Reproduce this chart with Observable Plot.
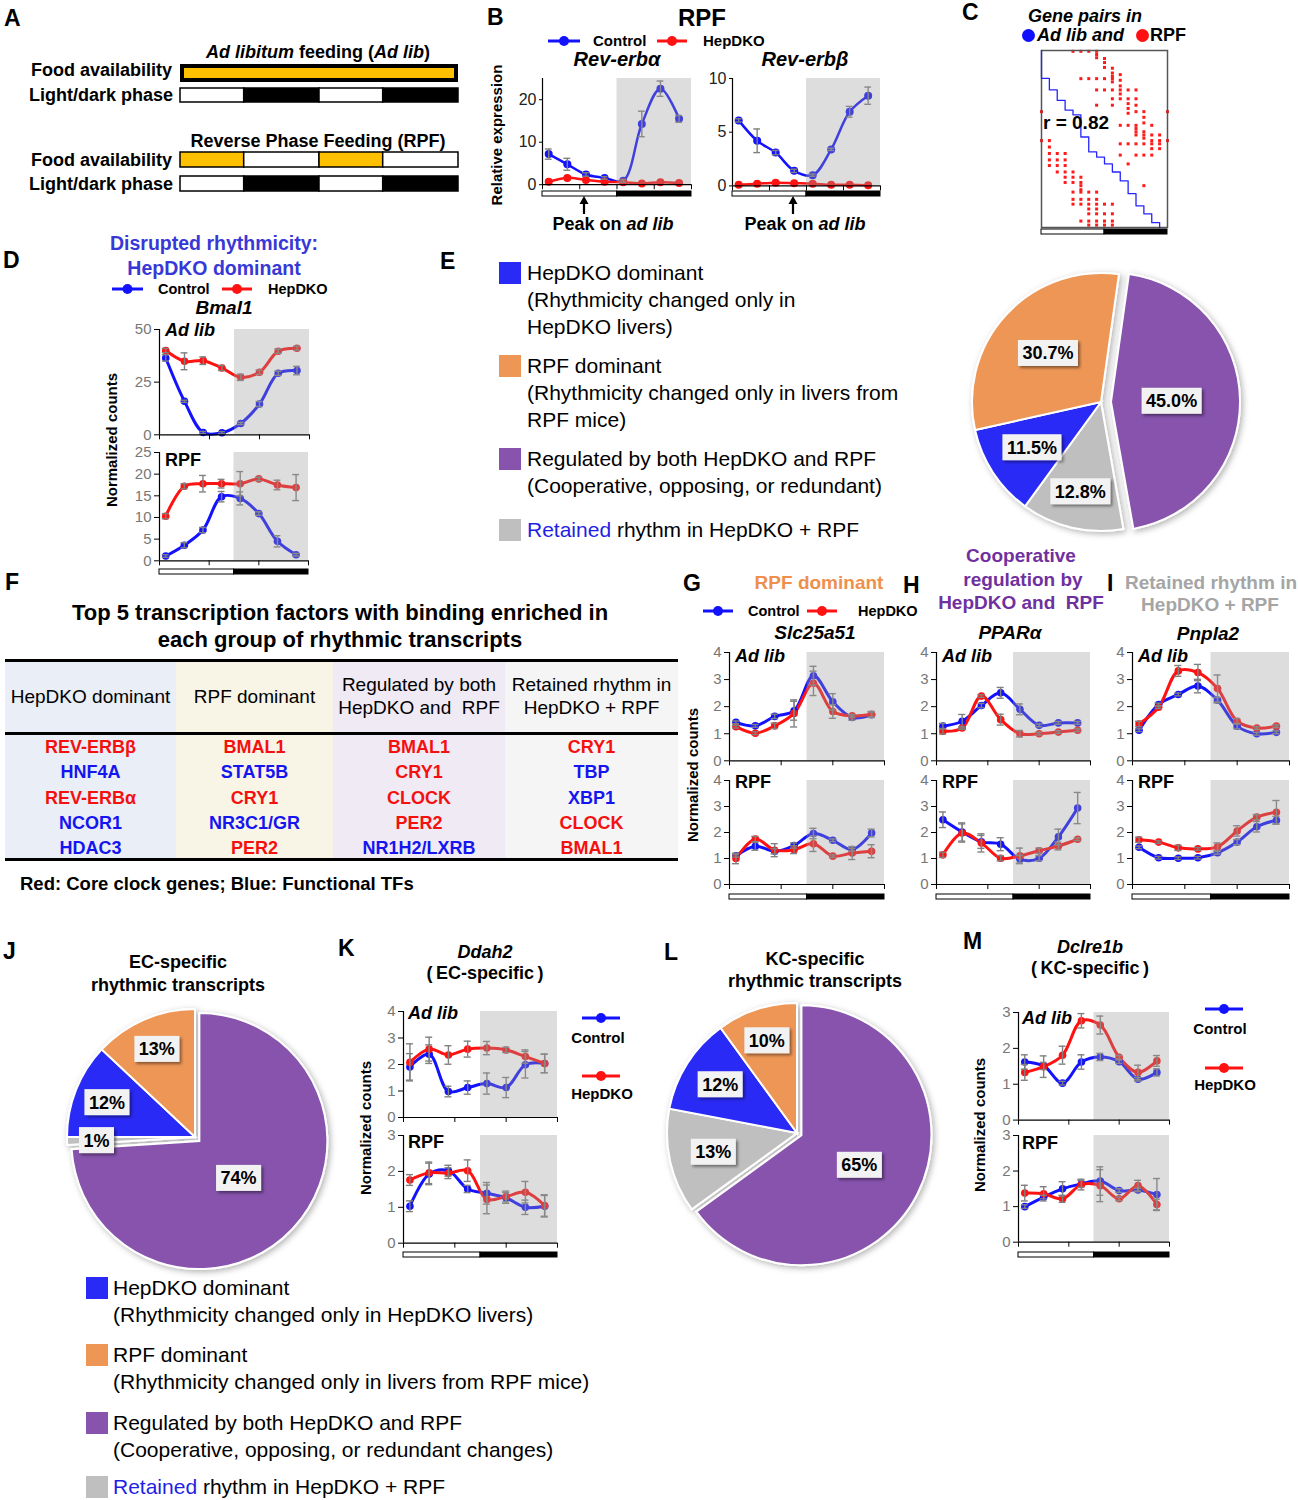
<!DOCTYPE html>
<html><head><meta charset="utf-8">
<script src="https://cdn.jsdelivr.net/npm/d3@7"></script>
<script src="https://cdn.jsdelivr.net/npm/@observablehq/plot@0.6"></script>
<style>
html,body{margin:0;padding:0;background:#fff;}
#fig{position:relative;width:1298px;height:1500px;overflow:hidden;background:#fff;font-family:"Liberation Sans",Arial,Helvetica,sans-serif;color:#000;}
#fig .t{position:absolute;white-space:pre;line-height:1.15;}
#fig svg{position:absolute;overflow:visible;}
</style></head>
<body><div id="fig"></div>
<script>
// ================= DATA =================
const ZT = [1, 4, 7, 10, 13, 16, 19, 22];
const lightDark = [{phase: "light", start: 0, end: 12}, {phase: "dark", start: 12, end: 24}];

// Panel A schematic (hours over two days)
const adLibFood = [{start: 0, end: 48, food: true}];
const phaseSegments = [{start: 0, end: 11, light: true}, {start: 11, end: 24, light: false}, {start: 24, end: 35, light: true}, {start: 35, end: 48, light: false}];
const rpfFood = [{start: 0, end: 11, food: true}, {start: 11, end: 24, food: false}, {start: 24, end: 35, food: true}, {start: 35, end: 48, food: false}];

// Panel B (RPF, relative expression)
const revErbaCtrl = [7.2, 4.8, 2.4, 1.6, 0.9, 14.3, 22.6, 15.5];
const revErbaCtrlErr = [1.2, 1.4, 0.4, 0.3, 0.3, 3.0, 1.8, 0.8];
const revErbaHep = [0.7, 1.6, 1.1, 0.7, 0.6, 0.3, 0.6, 0.4];
const revErbaHepErr = [0, 0, 0, 0, 0, 0, 0, 0];
const revErbbCtrl = [6.1, 4.2, 3.1, 1.4, 1.0, 3.4, 6.9, 8.4];
const revErbbCtrlErr = [0.15, 1.1, 0.2, 0.15, 0.1, 0.1, 0.5, 0.8];
const revErbbHep = [0.1, 0.2, 0.3, 0.25, 0.2, 0.1, 0.1, 0.05];
const revErbbHepErr = [0, 0, 0, 0, 0, 0, 0, 0];

// Panel C (gene pairs)
const pairsStep = [[0,0],[1,3.46],[2,4.9],[3,6.2],[4,7.4],[5,8.0],[6,10.75],[7,12.6],[8,13.25],[9,14.1],[10,15.1],[11,16.2],[12,17.8],[13,19.3],[14,20.3],[15,21.4],[15,22]];
const pairsRed = [
  [0.1,[4,5,6,7]],[0.5,[7]],[0.9,[7]],[1.0,[8]],[1.5,[8]],[2.1,[8]],[2.2,[9]],[2.8,[9]],[3.0,[10]],[3.2,[9]],
  [3.5,[5,6,7,8,9]],[3.7,[10]],[3.9,[9]],[4.4,[10]],[4.9,[7,8,9,10,11,12]],[5.4,[10]],
  [6.0,[9,10,11,12]],[6.6,[11]],[6.8,[7,9,12]],[7.2,[11]],[7.6,[0,12,13,16]],[7.8,[11]],
  [8.3,[13]],[9.0,[13]],[9.3,[10,11,12,14]],[9.7,[12]],[10.1,[12,13]],[10.5,[12,13,14,15]],[10.9,[13]],
  [11.2,[0,1,14,15,16]],[11.6,[10,11,12,13,14,15]],[12.2,[14,15]],[13.0,[10,12,13,14]],[14.1,[11]],
  [12.0,[1]],[12.8,[1,2,3]],[13.6,[1,2,3]],[14.3,[1,2,3]],[15.1,[2,3,4]],[15.75,[3,4,5]],[16.4,[3,4,5]],
  [16.8,[5,13]],[17.3,[5]],[17.6,[4,5,6,7]],[18.5,[4,5,6,7]],[19.1,[4,5,6,7,8,9]],[19.7,[6,7]],
  [20.3,[6,7,8,9]],[21.2,[5,6,7,8,9]],[21.7,[6,7,8,9]]
];

// Panel D (Bmal1)
const bmal1AdCtrl = [36.5, 15.9, 1.1, 1.0, 5.4, 14.6, 29.2, 30.5];
const bmal1AdCtrlErr = [1.5, 0.5, 0.5, 0.5, 0.5, 1.2, 1.0, 2.0];
const bmal1AdHep = [40.0, 34.9, 35.2, 31.7, 27.3, 29.7, 39.7, 41.1];
const bmal1AdHepErr = [1.0, 4.0, 1.8, 1.2, 1.5, 1.0, 1.0, 1.0];
const bmal1RpfCtrl = [1.1, 3.6, 7.1, 14.8, 14.4, 10.9, 4.5, 1.4];
const bmal1RpfCtrlErr = [0.3, 0.6, 0.6, 1.2, 1.5, 0.4, 1.3, 0.3];
const bmal1RpfHep = [10.3, 17.2, 17.8, 17.8, 17.8, 18.9, 17.5, 16.9];
const bmal1RpfHepErr = [0.6, 0.6, 1.9, 1.0, 2.8, 0.4, 1.1, 3.0];

// Panel E pie (percent)
const groupCats = ["HepDKO dominant", "RPF dominant", "Regulated by both", "Retained rhythm"];
const pieAll = [{cat: "Regulated by both", value: 45.0}, {cat: "Retained rhythm", value: 12.8}, {cat: "HepDKO dominant", value: 11.5}, {cat: "RPF dominant", value: 30.7}];

// Panel F table
const tfGroups = [["HepDKO dominant"], ["RPF dominant"], ["Regulated by both", "HepDKO and  RPF"], ["Retained rhythm in", "HepDKO + RPF"]];
const tfTop5 = [
  ["REV-ERBβ", "HNF4A", "REV-ERBα", "NCOR1", "HDAC3"],
  ["BMAL1", "STAT5B", "CRY1", "NR3C1/GR", "PER2"],
  ["BMAL1", "CRY1", "CLOCK", "PER2", "NR1H2/LXRB"],
  ["CRY1", "TBP", "XBP1", "CLOCK", "BMAL1"]
];
const coreClockTFs = ["REV-ERBβ", "REV-ERBα", "BMAL1", "CRY1", "CLOCK", "PER2"];

// Panel G (Slc25a51)
const slcAdCtrl = [1.42, 1.29, 1.64, 1.85, 3.14, 2.18, 1.6, 1.7];
const slcAdCtrlErr = [0.05, 0.05, 0.08, 0.35, 0.35, 0.3, 0.1, 0.1];
const slcAdHep = [1.26, 1.02, 1.29, 1.75, 2.86, 1.82, 1.66, 1.72];
const slcAdHepErr = [0.05, 0.05, 0.1, 0.5, 0.45, 0.25, 0.05, 0.1];
const slcRpfCtrl = [1.1, 1.47, 1.28, 1.5, 1.96, 1.7, 1.34, 1.98];
const slcRpfCtrlErr = [0.05, 0.15, 0.1, 0.1, 0.2, 0.05, 0.05, 0.15];
const slcRpfHep = [1.0, 1.75, 1.32, 1.34, 1.57, 1.09, 1.21, 1.28];
const slcRpfHepErr = [0.2, 0.1, 0.25, 0.15, 0.3, 0.05, 0.25, 0.25];

// Panel H (PPARα)
const pparAdCtrl = [1.28, 1.46, 2.04, 2.51, 1.9, 1.31, 1.4, 1.4];
const pparAdCtrlErr = [0.1, 0.25, 0.08, 0.2, 0.2, 0.05, 0.05, 0.05];
const pparAdHep = [1.09, 1.21, 2.39, 1.52, 1.0, 1.0, 1.06, 1.13];
const pparAdHepErr = [0.1, 0.05, 0.05, 0.2, 0.12, 0.05, 0.05, 0.05];
const pparRpfCtrl = [2.49, 2.02, 1.64, 1.55, 0.97, 1.01, 1.83, 2.94];
const pparRpfCtrlErr = [0.3, 0.35, 0.25, 0.25, 0.15, 0.1, 0.3, 0.6];
const pparRpfHep = [1.14, 1.98, 1.6, 1.01, 1.1, 1.3, 1.48, 1.74];
const pparRpfHepErr = [0.1, 0.35, 0.35, 0.1, 0.3, 0.1, 0.15, 0.05];

// Panel I (Pnpla2)
const pnpAdCtrl = [1.13, 2.08, 2.45, 2.76, 2.24, 1.28, 1.0, 1.05];
const pnpAdCtrlErr = [0.05, 0.05, 0.05, 0.25, 0.1, 0.1, 0.05, 0.05];
const pnpAdHep = [1.36, 1.98, 3.32, 3.26, 2.67, 1.46, 1.21, 1.28];
const pnpAdHepErr = [0.1, 0.05, 0.2, 0.3, 0.5, 0.1, 0.05, 0.05];
const pnpRpfCtrl = [1.43, 1.03, 1.01, 1.03, 1.22, 1.63, 2.22, 2.47];
const pnpRpfCtrlErr = [0.05, 0.05, 0.05, 0.05, 0.05, 0.1, 0.2, 0.15];
const pnpRpfHep = [1.72, 1.63, 1.41, 1.37, 1.45, 2.06, 2.59, 2.78];
const pnpRpfHepErr = [0.1, 0.05, 0.1, 0.05, 0.15, 0.2, 0.1, 0.45];

// Panel J / L pies
const pieEC = [{cat: "Regulated by both", value: 74}, {cat: "Retained rhythm", value: 1}, {cat: "HepDKO dominant", value: 12}, {cat: "RPF dominant", value: 13}];
const pieKC = [{cat: "Regulated by both", value: 65}, {cat: "Retained rhythm", value: 13}, {cat: "HepDKO dominant", value: 12}, {cat: "RPF dominant", value: 10}];

// Panel K (Ddah2)
const ddahAdCtrl = [1.91, 2.39, 0.98, 1.13, 1.28, 1.13, 1.99, 2.04];
const ddahAdCtrlErr = [0.5, 0.35, 0.2, 0.25, 0.4, 0.38, 0.5, 0.35];
const ddahAdHep = [2.08, 2.58, 2.36, 2.58, 2.62, 2.55, 2.3, 2.04];
const ddahAdHepErr = [0.7, 0.45, 0.35, 0.3, 0.25, 0.1, 0.25, 0.35];
const ddahRpfCtrl = [1.03, 1.93, 2.02, 1.51, 1.39, 1.26, 1.0, 1.03];
const ddahRpfCtrlErr = [0.15, 0.3, 0.15, 0.1, 0.3, 0.15, 0.2, 0.3];
const ddahRpfHep = [1.76, 1.96, 1.95, 2.02, 1.22, 1.3, 1.42, 1.05];
const ddahRpfHepErr = [0.15, 0.3, 0.15, 0.3, 0.4, 0.15, 0.3, 0.3];

// Panel M (Dclre1b)
const dclAdCtrl = [1.62, 1.51, 1.03, 1.62, 1.76, 1.63, 1.14, 1.33];
const dclAdCtrlErr = [0.2, 0.1, 0.05, 0.2, 0.1, 0.05, 0.05, 0.1];
const dclAdHep = [1.33, 1.49, 1.81, 2.77, 2.65, 1.75, 1.33, 1.65];
const dclAdHepErr = [0.22, 0.3, 0.25, 0.2, 0.25, 0.05, 0.2, 0.15];
const dclRpfCtrl = [1.0, 1.27, 1.5, 1.64, 1.72, 1.45, 1.47, 1.34];
const dclRpfCtrlErr = [0.05, 0.05, 0.2, 0.1, 0.4, 0.05, 0.05, 0.45];
const dclRpfHep = [1.38, 1.36, 1.22, 1.62, 1.59, 1.22, 1.59, 1.06];
const dclRpfHepErr = [0.22, 0.2, 0.1, 0.15, 0.45, 0.05, 0.15, 0.15];

// ================= STYLE / HELPERS =================
const BLUE = "#1212ff", RED = "#ff1212", ERR = "#808080", SHADE = "#9a9a9a", TICK = "#777";
const FONT = '"Liberation Sans", Arial, Helvetica, sans-serif';
const catColors = ["#2a2af6", "#ee9656", "#8753ad", "#bfbfbf"];
const fig = document.getElementById("fig");

function T(x, y, html, o = {}) {
  const d = document.createElement("div");
  d.className = "t";
  d.innerHTML = html;
  d.style.left = x + "px"; d.style.top = y + "px";
  d.style.fontSize = (o.size || 16) + "px";
  d.style.fontWeight = o.weight || "bold";
  if (o.italic) d.style.fontStyle = "italic";
  if (o.color) d.style.color = o.color;
  const a = o.anchor || "start";
  const tx = a === "middle" ? "-50%" : a === "end" ? "-100%" : "0";
  d.style.transform = `translate(${tx},-50%)` + (o.rotate ? ` rotate(${o.rotate}deg)` : "");
  fig.appendChild(d);
  return d;
}
function box(x, y, w, h, color) {
  const d = document.createElement("div");
  d.style.cssText = `position:absolute;left:${x}px;top:${y}px;width:${w}px;height:${h}px;background:${color}`;
  fig.appendChild(d);
}
function dotDiv(x, y, r, color) {
  const d = document.createElement("div");
  d.style.cssText = `position:absolute;left:${x - r}px;top:${y - r}px;width:${2 * r}px;height:${2 * r}px;border-radius:50%;background:${color}`;
  fig.appendChild(d);
}
function put(node, x, y) { node.style.position = "absolute"; node.style.left = x + "px"; node.style.top = y + "px"; fig.appendChild(node); }
function lineSwatch(xa, xb, y, color) {
  const w = xb - xa + 12;
  const s = d3.create("svg").attr("width", w).attr("height", 14);
  s.append("line").attr("x1", 6).attr("x2", w - 6).attr("y1", 7).attr("y2", 7).attr("stroke", color).attr("stroke-width", 3);
  s.append("circle").attr("cx", w / 2).attr("cy", 7).attr("r", 5).attr("fill", color);
  put(s.node(), xa - 6, y - 7);
}
function arrowUp(x, yTip, yTail) {
  const h = yTail - yTip;
  const s = d3.create("svg").attr("width", 12).attr("height", h + 2);
  s.append("line").attr("x1", 6).attr("x2", 6).attr("y1", 6).attr("y2", h + 1).attr("stroke", "#000").attr("stroke-width", 2.2);
  s.append("path").attr("d", "M6,0 L10.5,8 L1.5,8 Z").attr("fill", "#000");
  put(s.node(), x - 6, yTip);
}
const measureCtx = document.createElement("canvas").getContext("2d");
function textW(txt, font) { measureCtx.font = font; return measureCtx.measureText(txt).width; }

function tsChart(o) {
  const mL = 40, mR = 8, mT = 8, mB = 8;
  const w = o.x1 - o.x0 + mL + mR, h = o.yBot - o.yTop + mT + mB;
  const mk = (vals, errs, grp) => ZT.map((t, i) => ({t, v: vals[i], e: errs[i], grp}));
  const c = mk(o.ctrl, o.ctrlErr, "Control"), p = mk(o.hep, o.hepErr, "HepDKO");
  const bars = [...c, ...p].filter(d => d.e > 0);
  const cap = 0.55, lw = o.lw || 3, r = o.r || 3.8;
  const svg = Plot.plot({
    width: w, height: h, marginLeft: mL, marginRight: mR, marginTop: mT, marginBottom: mB,
    x: {domain: [0, 24]}, y: {domain: [0, o.ymax]},
    color: {domain: ["Control", "HepDKO"], range: [BLUE, RED]},
    style: {fontFamily: FONT, background: "transparent", overflow: "visible"},
    marks: [
      Plot.line(c, {x: "t", y: "v", stroke: "grp", strokeWidth: lw, curve: "catmull-rom"}),
      Plot.line(p, {x: "t", y: "v", stroke: "grp", strokeWidth: lw, curve: "catmull-rom"}),
      Plot.dot(c, {x: "t", y: "v", fill: "grp", r}),
      Plot.dot(p, {x: "t", y: "v", fill: "grp", r}),
      Plot.ruleX(bars, {x: "t", y1: d => d.v - d.e, y2: d => d.v + d.e, stroke: ERR, strokeWidth: 1.4}),
      Plot.ruleY(bars, {y: d => d.v - d.e, x1: d => d.t - cap, x2: d => d.t + cap, stroke: ERR, strokeWidth: 1.4}),
      Plot.ruleY(bars, {y: d => d.v + d.e, x1: d => d.t - cap, x2: d => d.t + cap, stroke: ERR, strokeWidth: 1.4}),
      Plot.rect(lightDark.filter(d => d.phase === "dark"), {x1: "start", x2: "end", y1: 0, y2: o.ymax, fill: SHADE, fillOpacity: 0.34}),
      Plot.ruleX([0], {y1: 0, y2: o.ymax, stroke: "#000", strokeWidth: 1.2}),
      Plot.ruleY([0], {x1: 0, x2: 24, stroke: "#000", strokeWidth: 1.2}),
      Plot.axisY(o.yticks, {tickSize: o.ytickSize ?? 5, tickPadding: 3, stroke: "#000", fill: o.tickColor || TICK, label: null}),
      Plot.axisX(o.xticks || [0, 8, 16, 24], {tickSize: 5, stroke: "#000", fill: "none", label: null})
    ]
  });
  d3.select(svg).selectAll("text").style("font-size", (o.tickFont || 15) + "px").style("font-family", FONT);
  put(svg, o.x0 - mL, o.yTop - mT);
}
function ldBar(x0, x1, y, hgt) {
  const svg = Plot.plot({
    width: x1 - x0 + 2, height: hgt + 2, margin: 1,
    x: {domain: [0, 24], axis: null}, y: {domain: [0, 1], axis: null},
    style: {background: "transparent", overflow: "visible"},
    marks: [
      Plot.rect(lightDark.filter(d => d.phase === "light"), {x1: "start", x2: "end", y1: 0, y2: 1, fill: "#fff", stroke: "#000", strokeWidth: 1}),
      Plot.rect(lightDark.filter(d => d.phase === "dark"), {x1: "start", x2: "end", y1: 0, y2: 1, fill: "#000", stroke: "#000", strokeWidth: 1})
    ]
  });
  put(svg, x0 - 1, y - 1);
}
function pieChart({cx, cy, r, slices, startDeg, explode, labelFrac, digits, id}) {
  const m = 26, size = 2 * r + 2 * m;
  const fmt = d3.format(`.${digits}f`);
  const pieMark = (index, scales) => {
    const x0 = scales.x(0), y0 = scales.y(0), rad = scales.x(1) - scales.x(0);
    const col = scales.color || (c => catColors[groupCats.indexOf(c)]);
    const a0 = startDeg * Math.PI / 180;
    const arcs = d3.pie().sort(null).value(d => d.value).startAngle(a0).endAngle(a0 + 2 * Math.PI)(slices);
    const arc = d3.arc().innerRadius(0).outerRadius(rad);
    const g = d3.create("svg:g");
    const defs = g.append("defs");
    defs.append("filter").attr("id", id + "a").attr("x", "-30%").attr("y", "-30%").attr("width", "160%").attr("height", "160%")
      .append("feDropShadow").attr("dx", 2).attr("dy", 2).attr("stdDeviation", 3).attr("flood-color", "#000").attr("flood-opacity", 0.3);
    defs.append("filter").attr("id", id + "b").attr("x", "-30%").attr("y", "-30%").attr("width", "160%").attr("height", "160%")
      .append("feDropShadow").attr("dx", 2).attr("dy", 2).attr("stdDeviation", 1.5).attr("flood-color", "#000").attr("flood-opacity", 0.45);
    const sg = g.append("g").attr("filter", `url(#${id}a)`);
    const mids = arcs.map(a => (a.startAngle + a.endAngle) / 2);
    arcs.forEach((a, i) => {
      const e = explode[a.data.cat] || 0;
      sg.append("path").attr("d", arc(a))
        .attr("transform", `translate(${x0 + e * Math.sin(mids[i])},${y0 - e * Math.cos(mids[i])})`)
        .attr("fill", col(a.data.cat)).attr("stroke", "#fff").attr("stroke-width", 2);
    });
    arcs.forEach((a, i) => {
      const e = explode[a.data.cat] || 0, f = labelFrac[a.data.cat];
      const lx = x0 + (e + f * rad) * Math.sin(mids[i]), ly = y0 - (e + f * rad) * Math.cos(mids[i]);
      const txt = fmt(a.data.value) + "%";
      const w = textW(txt, `bold 18px ${FONT}`) + 9, h = 26;
      g.append("rect").attr("x", lx - w / 2).attr("y", ly - h / 2).attr("width", w).attr("height", h).attr("fill", "#f2f2f2").attr("filter", `url(#${id}b)`);
      g.append("text").attr("x", lx).attr("y", ly).attr("dy", "0.36em").attr("text-anchor", "middle")
        .attr("font-family", FONT).attr("font-weight", "bold").attr("font-size", 18).attr("fill", "#000").text(txt);
    });
    return g.node();
  };
  const svg = Plot.plot({
    width: size, height: size, margin: m,
    x: {domain: [-1, 1], axis: null}, y: {domain: [-1, 1], axis: null},
    color: {domain: groupCats, range: catColors},
    style: {background: "transparent", overflow: "visible"},
    marks: [Plot.dot(slices, {x: 0, y: 0, fill: "cat", r: 0}), pieMark]
  });
  put(svg, cx - r - m, cy - r - m);
}

// ================= PANEL LETTERS =================
[["A", 4, 18], ["B", 487, 17], ["C", 962, 12], ["D", 3, 260], ["E", 440, 261], ["F", 5, 582], ["G", 683, 583],
 ["H", 903, 585], ["I", 1107, 583], ["J", 3, 951], ["K", 338, 948], ["L", 664, 952], ["M", 963, 941]]
  .forEach(([l, x, y]) => T(x, y, l, {size: 23}));

// ================= PANEL A =================
T(318, 52, "<i>Ad libitum</i> feeding (<i>Ad lib</i>)", {size: 18, anchor: "middle"});
T(172, 70, "Food availability", {size: 18, anchor: "end"});
T(173, 95, "Light/dark phase", {size: 18, anchor: "end"});
T(318, 141, "Reverse Phase Feeding (RPF)", {size: 18, anchor: "middle"});
T(172, 160, "Food availability", {size: 18, anchor: "end"});
T(173, 184, "Light/dark phase", {size: 18, anchor: "end"});
(function () {
  const common = {width: 282, marginLeft: 1, marginRight: 3, x: {domain: [0, 48], axis: null}, style: {background: "transparent", overflow: "visible"}};
  const a = Plot.plot({...common, height: 46, marginTop: 3, marginBottom: 3,
    y: {domain: ["food", "ld"], paddingInner: 0.095, paddingOuter: 0, axis: null},
    marks: [
      Plot.barX(adLibFood, {x1: "start", x2: "end", y: () => "food", fill: "#ffc000", stroke: "#000", strokeWidth: 4, inset: 2}),
      Plot.barX(phaseSegments, {x1: "start", x2: "end", y: () => "ld", fill: d => d.light ? "#ffffff" : "#000000", stroke: "#000", strokeWidth: 1.5, insetTop: 4})
    ]});
  put(a, 179, 60);
  const b = Plot.plot({...common, height: 45, marginTop: 3, marginBottom: 3,
    y: {domain: ["food", "ld"], paddingInner: 0.375, paddingOuter: 0, axis: null},
    marks: [
      Plot.barX(rpfFood, {x1: "start", x2: "end", y: () => "food", fill: d => d.food ? "#ffc000" : "#ffffff", stroke: "#000", strokeWidth: 1.5}),
      Plot.barX(phaseSegments, {x1: "start", x2: "end", y: () => "ld", fill: d => d.light ? "#ffffff" : "#000000", stroke: "#000", strokeWidth: 1.5})
    ]});
  put(b, 179, 149);
})();

// ================= PANEL B =================
T(702, 18, "RPF", {size: 24, anchor: "middle"});
lineSwatch(548, 580, 41, BLUE); T(593, 41, "Control", {size: 15});
lineSwatch(657, 687, 41, RED); T(703, 41, "HepDKO", {size: 15});
T(617, 59, "Rev-erbα", {size: 20, italic: true, anchor: "middle"});
T(805, 59, "Rev-erbβ", {size: 20, italic: true, anchor: "middle"});
T(497, 135, "Relative expression", {size: 15, anchor: "middle", rotate: -90});
tsChart({x0: 542, x1: 691, yTop: 77.8, yBot: 184, ymax: 25, yticks: [0, 10, 20], xticks: [0, 6, 12, 18, 24],
  ctrl: revErbaCtrl, ctrlErr: revErbaCtrlErr, hep: revErbaHep, hepErr: revErbaHepErr, lw: 2.5, r: 4, tickColor: "#222", tickFont: 16, ytickSize: 3});
tsChart({x0: 732, x1: 880, yTop: 78.3, yBot: 185.7, ymax: 10, yticks: [0, 5, 10], xticks: [0, 6, 12, 18, 24],
  ctrl: revErbbCtrl, ctrlErr: revErbbCtrlErr, hep: revErbbHep, hepErr: revErbbHepErr, lw: 2.5, r: 4, tickColor: "#222", tickFont: 16, ytickSize: 3});
ldBar(542, 691, 191, 5); ldBar(732, 880, 191, 5);
arrowUp(584, 196, 213); arrowUp(793, 196, 213);
T(613, 224, "Peak on <i>ad lib</i>", {size: 18, anchor: "middle"});
T(805, 224, "Peak on <i>ad lib</i>", {size: 18, anchor: "middle"});

// ================= PANEL C =================
T(1085, 16, "Gene pairs in", {size: 18, italic: true, anchor: "middle"});
dotDiv(1028, 35, 6.5, "#1010ff"); T(1037, 35, "Ad lib and", {size: 18, italic: true});
dotDiv(1142, 35, 6.5, "#ff1010"); T(1150, 35, "RPF", {size: 18});
(function () {
  const dots = pairsRed.flatMap(([row, cols]) => cols.map(col => ({col, row})));
  const steps = pairsStep.map(([col, row]) => ({col, row}));
  const svg = Plot.plot({
    width: 134, height: 185, margin: 4,
    x: {domain: [0, 16], axis: null}, y: {domain: [0, 22], reverse: true, axis: null},
    style: {background: "transparent", overflow: "visible"},
    marks: [
      Plot.dot(dots, {x: "col", y: "row", symbol: "square", r: 1.7, fill: "#ff1a1a"}),
      Plot.frame({stroke: "#555", strokeWidth: 1.5}),
      Plot.line(steps, {x: "col", y: "row", curve: "step-before", stroke: "#2424ff", strokeWidth: 1.3})
    ]
  });
  put(svg, 1037, 46);
})();
T(1043, 123, "r = 0.82", {size: 19});
ldBar(1041, 1167, 229, 5);

// ================= PANEL D =================
T(214, 243, "Disrupted rhythmicity:", {size: 19.5, anchor: "middle", color: "#3838d6"});
T(214, 268, "HepDKO dominant", {size: 19.5, anchor: "middle", color: "#3838d6"});
lineSwatch(112, 143, 289, BLUE); T(158, 289, "Control", {size: 14.5});
lineSwatch(222, 252, 289, RED); T(268, 289, "HepDKO", {size: 14.5});
T(224, 308, "Bmal1", {size: 19, italic: true, anchor: "middle"});
T(112, 440, "Normalized counts", {size: 15, anchor: "middle", rotate: -90});
tsChart({x0: 159, x1: 309, yTop: 328.7, yBot: 434, ymax: 50, yticks: [0, 25, 50],
  ctrl: bmal1AdCtrl, ctrlErr: bmal1AdCtrlErr, hep: bmal1AdHep, hepErr: bmal1AdHepErr});
tsChart({x0: 159, x1: 308, yTop: 451.7, yBot: 560, ymax: 25, yticks: [0, 5, 10, 15, 20, 25],
  ctrl: bmal1RpfCtrl, ctrlErr: bmal1RpfCtrlErr, hep: bmal1RpfHep, hepErr: bmal1RpfHepErr});
T(165, 330, "Ad lib", {size: 18, italic: true});
T(165, 460, "RPF", {size: 18});
ldBar(159, 308, 569, 5);

// ================= PANEL E =================
(function () {
  const lines = [
    ["HepDKO dominant", "(Rhythmicity changed only in", "HepDKO livers)"],
    ["RPF dominant", "(Rhythmicity changed only in livers from", "RPF mice)"],
    ["Regulated by both HepDKO and RPF", "(Cooperative, opposing, or redundant)"],
    ['<span style="color:#1f1fe6">Retained</span> rhythm in HepDKO + RPF']
  ];
  const ys = [272.5, 366, 459, 530];
  lines.forEach((ls, i) => {
    box(499, ys[i] - 11, 22, 22, catColors[i]);
    ls.forEach((s, j) => T(527, ys[i] + j * 27, s, {size: 21, weight: "normal"}));
  });
})();
pieChart({cx: 1101, cy: 402, r: 129, slices: pieAll, startDeg: 8, explode: {"Regulated by both": 10}, digits: 1, id: "pe",
  labelFrac: {"RPF dominant": 0.56, "Regulated by both": 0.47, "HepDKO dominant": 0.64, "Retained rhythm": 0.71}});

// ================= PANEL F =================
T(340, 613, "Top 5 transcription factors with binding enriched in", {size: 22, anchor: "middle"});
T(340, 640, "each group of rhythmic transcripts", {size: 22, anchor: "middle"});
(function () {
  const edges = [5, 176, 333, 505, 678];
  const bgs = ["#e9eef7", "#f8f5e7", "#f0eaf5", "#f5f5f5"];
  tfGroups.forEach((g, i) => {
    box(edges[i], 660, edges[i + 1] - edges[i], 199, bgs[i]);
    const cx = (edges[i] + edges[i + 1]) / 2;
    if (g.length === 1) T(cx, 697, g[0], {size: 19, weight: "normal", anchor: "middle"});
    else { T(cx, 685, g[0], {size: 19, weight: "normal", anchor: "middle"}); T(cx, 708, g[1], {size: 19, weight: "normal", anchor: "middle"}); }
    tfTop5[i].forEach((name, j) => T(cx, 747 + j * 25.3, name, {size: 18, anchor: "middle",
      color: coreClockTFs.includes(name) ? "#f51010" : "#1515f0"}));
  });
  [660, 733, 859].forEach(y => box(5, y - 1.5, 673, 3, "#000"));
})();
T(20, 884, "Red: Core clock genes; Blue: Functional TFs", {size: 18.5});

// ================= PANEL G / H / I =================
T(819, 583, "RPF dominant", {size: 19, anchor: "middle", color: "#ee904c"});
lineSwatch(703, 733, 610.5, BLUE); T(748, 610.5, "Control", {size: 14.5});
lineSwatch(807, 837, 610.5, RED); T(858, 610.5, "HepDKO", {size: 14.5});
T(1021, 556, "Cooperative", {size: 19, anchor: "middle", color: "#7030a0"});
T(1023, 580, "regulation by", {size: 19, anchor: "middle", color: "#7030a0"});
T(1021, 603, "HepDKO and  RPF", {size: 19, anchor: "middle", color: "#7030a0"});
T(1211, 583, "Retained rhythm in", {size: 19, anchor: "middle", color: "#a5a5a5"});
T(1210, 605, "HepDKO + RPF", {size: 19, anchor: "middle", color: "#a5a5a5"});
T(815, 633, "Slc25a51", {size: 19, italic: true, anchor: "middle"});
T(1010, 633, "PPARα", {size: 19, italic: true, anchor: "middle"});
T(1208, 634, "Pnpla2", {size: 19, italic: true, anchor: "middle"});
T(693, 775, "Normalized counts", {size: 15, anchor: "middle", rotate: -90});
const yt4 = [0, 1, 2, 3, 4];
[[729, 884, slcAdCtrl, slcAdCtrlErr, slcAdHep, slcAdHepErr, slcRpfCtrl, slcRpfCtrlErr, slcRpfHep, slcRpfHepErr],
 [936, 1090, pparAdCtrl, pparAdCtrlErr, pparAdHep, pparAdHepErr, pparRpfCtrl, pparRpfCtrlErr, pparRpfHep, pparRpfHepErr],
 [1132, 1289, pnpAdCtrl, pnpAdCtrlErr, pnpAdHep, pnpAdHepErr, pnpRpfCtrl, pnpRpfCtrlErr, pnpRpfHep, pnpRpfHepErr]]
  .forEach(([x0, x1, ac, ace, ah, ahe, rc, rce, rh, rhe]) => {
    tsChart({x0, x1, yTop: 651.7, yBot: 760, ymax: 4, yticks: yt4, ctrl: ac, ctrlErr: ace, hep: ah, hepErr: ahe});
    tsChart({x0, x1, yTop: 780, yBot: 884, ymax: 4, yticks: yt4, ctrl: rc, ctrlErr: rce, hep: rh, hepErr: rhe});
    T(x0 + 6, 656, "Ad lib", {size: 18, italic: true});
    T(x0 + 6, 782, "RPF", {size: 18});
    ldBar(x0, x1, 894, 5);
  });

// ================= PANEL J =================
T(178, 962, "EC-specific", {size: 18, anchor: "middle"});
T(178, 985, "rhythmic transcripts", {size: 18, anchor: "middle"});
pieChart({cx: 195, cy: 1137, r: 128, slices: pieEC, startDeg: 0, explode: {"Regulated by both": 6}, digits: 0, id: "pj",
  labelFrac: {"Regulated by both": 0.42, "Retained rhythm": 0.77, "HepDKO dominant": 0.74, "RPF dominant": 0.75}});

// ================= PANEL K =================
T(485, 952, "Ddah2", {size: 18, italic: true, anchor: "middle"});
T(485, 973, "(\u2009EC-specific\u2009)", {size: 18, anchor: "middle"});
T(366, 1128, "Normalized counts", {size: 15, anchor: "middle", rotate: -90});
tsChart({x0: 403, x1: 557, yTop: 1010.7, yBot: 1116.7, ymax: 4, yticks: yt4,
  ctrl: ddahAdCtrl, ctrlErr: ddahAdCtrlErr, hep: ddahAdHep, hepErr: ddahAdHepErr});
tsChart({x0: 403, x1: 557, yTop: 1135, yBot: 1242.7, ymax: 3, yticks: [0, 1, 2, 3],
  ctrl: ddahRpfCtrl, ctrlErr: ddahRpfCtrlErr, hep: ddahRpfHep, hepErr: ddahRpfHepErr});
T(408, 1013, "Ad lib", {size: 18, italic: true});
T(408, 1142, "RPF", {size: 18});
ldBar(403, 557, 1251.5, 5);
lineSwatch(582, 620, 1017.5, BLUE); T(598, 1038, "Control", {size: 15, anchor: "middle"});
lineSwatch(582, 620, 1076, RED); T(602, 1094, "HepDKO", {size: 15, anchor: "middle"});

// ================= PANEL L =================
T(815, 959, "KC-specific", {size: 18, anchor: "middle"});
T(815, 981, "rhythmic transcripts", {size: 18, anchor: "middle"});
pieChart({cx: 797, cy: 1133, r: 130, slices: pieKC, startDeg: 0, explode: {"Regulated by both": 5}, digits: 0, id: "pl",
  labelFrac: {"Regulated by both": 0.5, "Retained rhythm": 0.66, "HepDKO dominant": 0.7, "RPF dominant": 0.75}});

// ================= PANEL M =================
T(1090, 946.7, "Dclre1b", {size: 18, italic: true, anchor: "middle"});
T(1090, 968, "(\u2009KC-specific\u2009)", {size: 18, anchor: "middle"});
T(980, 1125, "Normalized counts", {size: 15, anchor: "middle", rotate: -90});
tsChart({x0: 1018, x1: 1169, yTop: 1011.7, yBot: 1119.3, ymax: 3, yticks: [0, 1, 2, 3],
  ctrl: dclAdCtrl, ctrlErr: dclAdCtrlErr, hep: dclAdHep, hepErr: dclAdHepErr});
tsChart({x0: 1018, x1: 1169, yTop: 1135, yBot: 1241.7, ymax: 3, yticks: [0, 1, 2, 3],
  ctrl: dclRpfCtrl, ctrlErr: dclRpfCtrlErr, hep: dclRpfHep, hepErr: dclRpfHepErr});
T(1022, 1018, "Ad lib", {size: 18, italic: true});
T(1022, 1143, "RPF", {size: 18});
ldBar(1018, 1169, 1252, 5);
lineSwatch(1205, 1243, 1009, BLUE); T(1220, 1029, "Control", {size: 15, anchor: "middle"});
lineSwatch(1205, 1243, 1067.5, RED); T(1225, 1085, "HepDKO", {size: 15, anchor: "middle"});

// ================= BOTTOM LEGEND =================
(function () {
  const lines = [
    ["HepDKO dominant", "(Rhythmicity changed only in HepDKO livers)"],
    ["RPF dominant", "(Rhythmicity changed only in livers from RPF mice)"],
    ["Regulated by both HepDKO and RPF", "(Cooperative, opposing, or redundant changes)"],
    ['<span style="color:#1f1fe6">Retained</span> rhythm in HepDKO + RPF']
  ];
  const ys = [1288, 1355, 1423, 1487];
  lines.forEach((ls, i) => {
    box(86, ys[i] - 11, 22, 22, catColors[i]);
    ls.forEach((s, j) => T(113, ys[i] + j * 27, s, {size: 21, weight: "normal"}));
  });
})();
</script></body></html>
